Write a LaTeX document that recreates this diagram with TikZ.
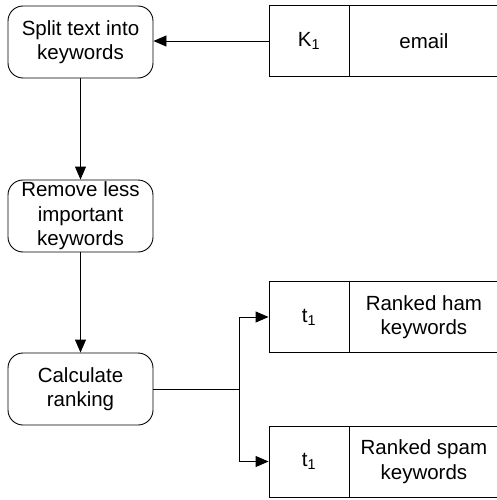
\documentclass[tikz,border=0pt]{standalone}
\usepackage{fontspec}
\setmainfont{Liberation Sans}
\usetikzlibrary{arrows.meta}
\begin{document}
\begin{tikzpicture}[x=1pt,y=-1pt,
  every node/.style={font=\fontsize{20.5pt}{24.5pt}\selectfont, align=center, inner sep=0pt},
  proc/.style={draw, rounded corners=15pt, minimum width=145pt, minimum height=72pt, line width=0.9pt},
  keycell/.style={draw, minimum width=80pt, minimum height=71pt, line width=0.9pt},
  datacell/.style={draw, minimum width=148pt, minimum height=71pt, line width=0.9pt},
  conn/.style={line width=0.9pt},
  arr/.style={conn, -{Triangle[length=13pt,width=11pt]}}]
\useasboundingbox (0,0) rectangle (497,500);
\node[proc] (split) at (80.5,42) {Split text into\\keywords};
\node[proc] (remove) at (80.5,216) {Remove less\\important\\keywords};
\node[proc] (calc) at (80.5,389) {Calculate\\ranking};
\node[keycell] (k1) at (309,41) {K\textsubscript{1}};
\node[datacell, anchor=west] (email) at (k1.east) {email};
\node[keycell] (t1a) at (309,317) {t\textsubscript{1}};
\node[datacell, anchor=west] (ham) at (t1a.east) {Ranked ham\\keywords};
\node[keycell] (t1b) at (309,461.5) {t\textsubscript{1}};
\node[datacell, anchor=west] (spam) at (t1b.east) {Ranked spam\\keywords};
\coordinate (fork) at (239,389);
\draw[arr] (k1.west) -- (k1.west -| split.east);
\draw[arr] (split.south) -- (remove.north);
\draw[arr] (remove.south) -- (calc.north);
\draw[conn] (calc.east) -- (fork);
\draw[arr] (fork) |- (t1a.west);
\draw[arr] (fork) |- (t1b.west);
\end{tikzpicture}
\end{document}
